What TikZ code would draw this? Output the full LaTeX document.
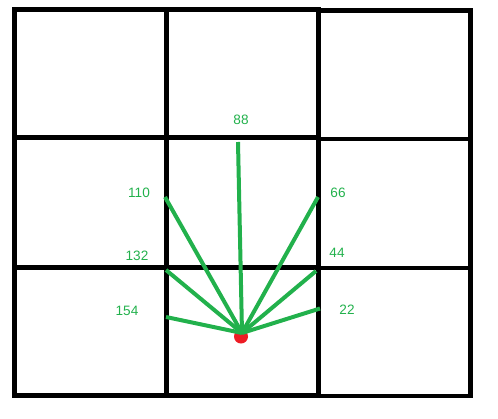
\documentclass[tikz,border=0pt]{standalone}
\usepackage{fontspec}
\setmainfont{Liberation Sans}
\definecolor{ray}{HTML}{22B14C}
\definecolor{dot}{HTML}{ED1C24}
\definecolor{ink}{HTML}{000000}

\begin{document}
\begin{tikzpicture}[
  x=1pt,y=-1pt,
  font=\fontsize{13.6}{15}\selectfont,
  grid/.style={draw=ink, line width=4.5pt, line cap=rect},
  beam/.style={draw=ray, line width=4pt},
  angle/.style={text=ray, inner sep=0pt},
  hub/.style={circle, fill=dot, minimum size=14pt, inner sep=0pt}
]
\useasboundingbox (0,0) rectangle (498,418);

% Grid cells
\draw[grid] (14.5,9.5) -- (318.5,9.5);
\draw[grid] (318.5,10.5) -- (470.5,10.5);
\draw[grid] (14.5,137.5) -- (318.5,137.5);
\draw[grid] (318.5,139) -- (470.5,139);
\draw[grid] (14.5,267.5) -- (318.5,267.5);
\draw[grid] (318.5,268) -- (470.5,268);
\draw[grid] (14.5,395.5) -- (318.5,395.5);
\draw[grid] (318.5,396) -- (470.5,396);
\draw[grid] (14.5,9.5) -- (14.5,395.5);
\draw[grid] (166.5,9.5) -- (166.5,395.5);
\draw[grid] (318.5,9.5) -- (318.5,396);
\draw[grid] (470.5,10.5) -- (470.5,396);

% Robot position
\node[hub] (robot) at (241,336.5) {};
\coordinate (origin) at (242,333);

% Ray ends
\coordinate (e22) at (320,308.5);
\coordinate (e44) at (316,271);
\coordinate (e66) at (318,197);
\coordinate (e88) at (238,142);
\coordinate (e110) at (165,197);
\coordinate (e132) at (166,270);
\coordinate (e154) at (166,317);

\draw[beam] (origin) -- (e22);
\draw[beam] (origin) -- (e44);
\draw[beam] (origin) -- (e66);
\draw[beam] (origin) -- (e88);
\draw[beam] (origin) -- (e110);
\draw[beam] (origin) -- (e132);
\draw[beam] (origin) -- (e154);

% Angle labels
\node[angle] (l22) at (347,310) {22};
\node[angle] (l44) at (337,253) {44};
\node[angle] (l66) at (338,193) {66};
\node[angle] (l88) at (241,120) {88};
\node[angle] (l110) at (139,193) {110};
\node[angle] (l132) at (137,256) {132};
\node[angle] (l154) at (127,311) {154};

\end{tikzpicture}
\end{document}
